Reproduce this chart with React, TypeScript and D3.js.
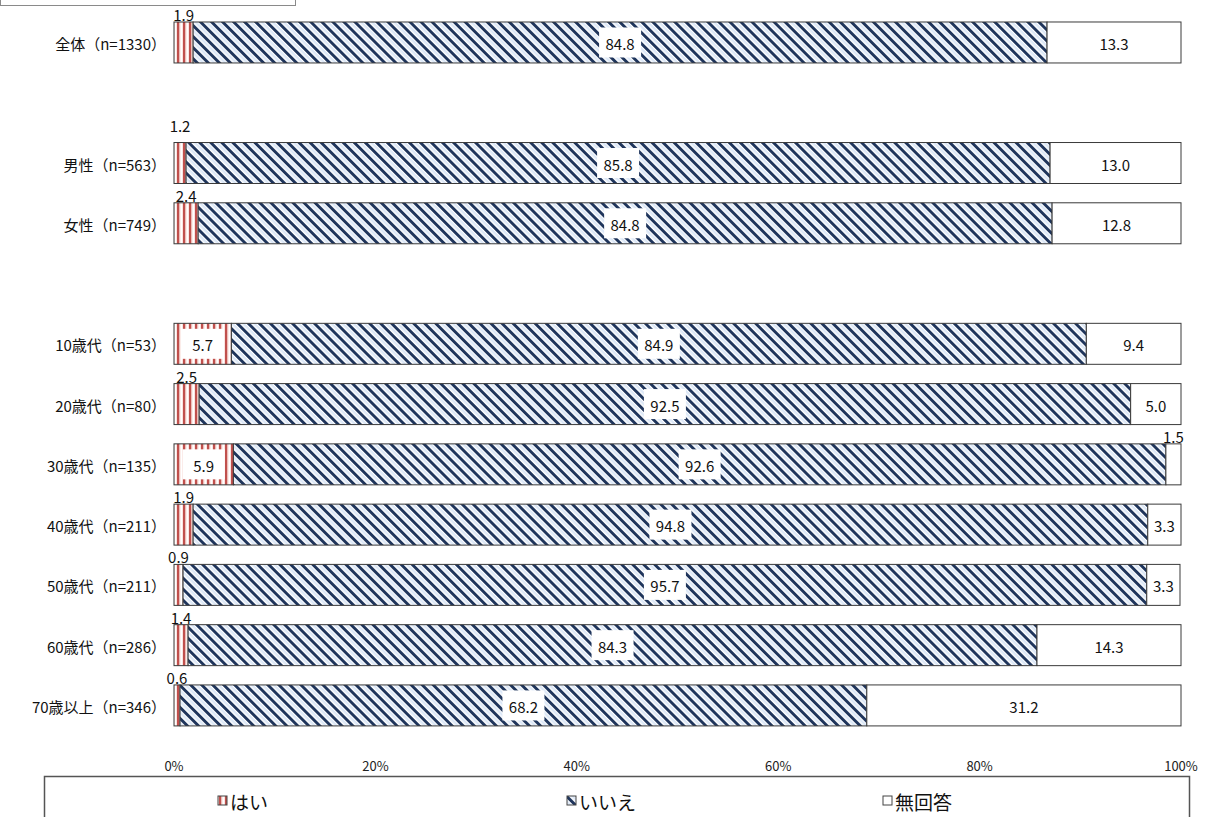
import React from "react";
import * as d3 from "d3";

const categories = [
  "全体（n=1330）",
  "",
  "男性（n=563）",
  "女性（n=749）",
  " ",
  "10歳代（n=53）",
  "20歳代（n=80）",
  "30歳代（n=135）",
  "40歳代（n=211）",
  "50歳代（n=211）",
  "60歳代（n=286）",
  "70歳以上（n=346）",
];
const hai = [1.9, null, 1.2, 2.4, null, 5.7, 2.5, 5.9, 1.9, 0.9, 1.4, 0.6];
const iie = [84.8, null, 85.8, 84.8, null, 84.9, 92.5, 92.6, 94.8, 95.7, 84.3, 68.2];
const mukaitou = [13.3, null, 13.0, 12.8, null, 9.4, 5.0, 1.5, 3.3, 3.3, 14.3, 31.2];
const seriesNames = ["はい", "いいえ", "無回答"];
const xTicks = [0, 20, 40, 60, 80, 100];

const W = 1211;
const H = 817;
const JP = "'Noto Sans CJK JP', 'Noto Sans', sans-serif";

export default function App() {
  const x = d3.scaleLinear().domain([0, 100]).range([174, 1181]);
  const y = d3
    .scaleBand<string>()
    .domain(categories)
    .range([2.7, 745.2])
    .paddingInner(0.32)
    .paddingOuter(0.32);
  const bh = y.bandwidth();
  const fills = ["url(#haiPat)", "url(#iiePat)", "#ffffff"];
  const stroke = "#3a3a3a";

  const rows = categories
    .map((c, i) => ({ c, i, v: [hai[i], iie[i], mukaitou[i]] }))
    .filter((r) => r.v[0] != null);

  return (
    <svg
      width={W}
      height={H}
      style={{ position: "absolute", left: 0, top: 0, background: "#fff" }}
      fontFamily={JP}
    >
      <defs>
        <pattern
          id="iiePat"
          patternUnits="userSpaceOnUse"
          width={7.8}
          height={7.8}
          patternTransform="rotate(-45)"
        >
          <rect width={7.8} height={7.8} fill="#dce8f7" />
          <rect x={0} width={3.0} height={7.8} fill="#1f355c" />
          <rect x={3.0} width={1.4} height={7.8} fill="#ffffff" />
          <rect x={6.8} width={1} height={7.8} fill="#ffffff" />
        </pattern>
        <pattern id="haiPat" patternUnits="userSpaceOnUse" x={174} width={6} height={6}>
          <rect width={6} height={6} fill="#f7d9d4" />
          <rect x={3} width={2.2} height={6} fill="#c0504d" />
          <rect x={0.5} width={1.8} height={6} fill="#ffffff" />
        </pattern>
      </defs>

      {/* cut-off box at top */}
      <rect x={0.5} y={-20} width={295} height={25.5} fill="none" stroke="#8a8a8a" strokeWidth={1} />

      {rows.map((r) => {
        const top = y(r.c)!;
        const cy = top + bh / 2;
        let acc = 0;
        const segs = r.v.map((v, k) => {
          const x0 = x(acc);
          acc += v as number;
          const x1 = x(acc);
          return { k, v: v as number, x0, x1 };
        });
        return (
          <g key={r.c}>
            <text
              x={166}
              y={cy + 1}
              textAnchor="end"
              dominantBaseline="central"
              fontSize={15}
              fill="#111"
            >
              {r.c}
            </text>
            {segs.map((s) => (
              <rect
                key={s.k}
                x={s.x0}
                y={top}
                width={Math.max(0, s.x1 - s.x0)}
                height={bh}
                fill={fills[s.k]}
                stroke={stroke}
                strokeWidth={1}
              />
            ))}
            {segs.map((s) => {
              const label = s.v.toFixed(1);
              const cx = (s.x0 + s.x1) / 2;
              const above =
                (s.k === 0 && s.v < 5) || (s.k === 2 && s.v < 3);
              if (above) {
                const nudge = r.c.startsWith("男性") ? 10 : 0;
                return (
                  <text
                    key={"l" + s.k}
                    x={cx}
                    y={top - 1 - nudge}
                    textAnchor="middle"
                    fontSize={15}
                    fill="#111"
                  >
                    {label}
                  </text>
                );
              }
              const boxed = s.k !== 2;
              const bw = 42;
              return (
                <g key={"l" + s.k}>
                  {boxed && (
                    <rect x={cx - bw / 2} y={cy - 15} width={bw} height={30} fill="#fff" />
                  )}
                  <text
                    x={cx}
                    y={cy + 1}
                    textAnchor="middle"
                    dominantBaseline="central"
                    fontSize={15}
                    fill="#111"
                  >
                    {label}
                  </text>
                </g>
              );
            })}
          </g>
        );
      })}

      {xTicks.map((t) => (
        <text
          key={t}
          x={x(t)}
          y={765}
          textAnchor="middle"
          dominantBaseline="central"
          fontSize={13}
          fill="#222"
        >
          {t}%
        </text>
      ))}

      {/* legend */}
      <rect x={44.5} y={776.5} width={1145} height={60} fill="#fff" stroke="#555" strokeWidth={1.5} />
      {seriesNames.map((n, i) => {
        const lx = [218, 567, 883][i];
        return (
          <g key={n}>
            <rect
              x={lx}
              y={796}
              width={9}
              height={9}
              fill={fills[i]}
              stroke="#444"
              strokeWidth={1}
            />
            <text x={lx + 12} y={801} dominantBaseline="central" fontSize={19} fill="#111">
              {n}
            </text>
          </g>
        );
      })}
    </svg>
  );
}
